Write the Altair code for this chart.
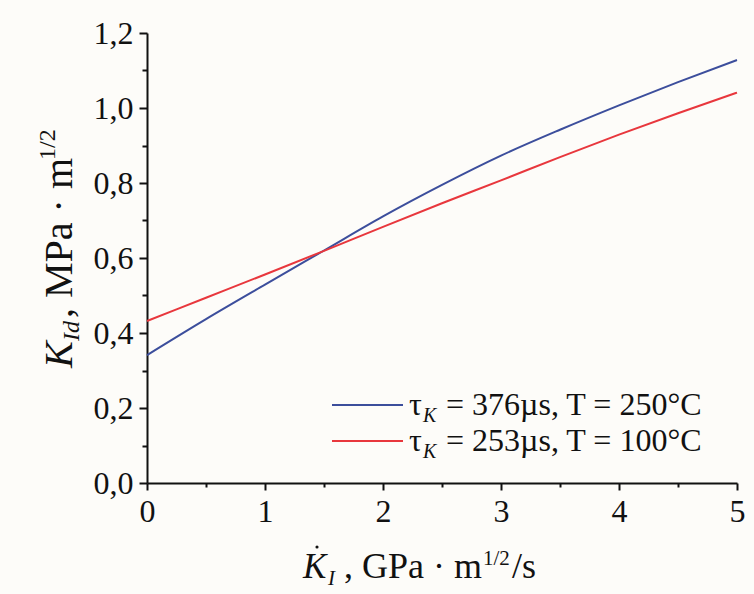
import altair as alt
import pandas as pd

# ---- data ----
k_rate = [0.0, 0.5, 1.0, 1.5, 2.0, 2.5, 3.0, 3.5, 4.0, 4.5, 5.0]
k_blue = [0.341, 0.437, 0.529, 0.620, 0.711, 0.795, 0.873, 0.942, 1.007, 1.069, 1.128]
k_red = [0.432, 0.494, 0.556, 0.619, 0.683, 0.746, 0.807, 0.869, 0.929, 0.986, 1.041]
series_names = ["τK = 376µs, T = 250°C", "τK = 253µs, T = 100°C"]
series_colors = ["#3c4e9c", "#e8373d"]
y_major = [0.0, 0.2, 0.4, 0.6, 0.8, 1.0, 1.2]
y_minor = [0.1, 0.3, 0.5, 0.7, 0.9, 1.1]
x_major = [0, 1, 2, 3, 4, 5]
x_minor = [0.5, 1.5, 2.5, 3.5, 4.5]

rows = []
for i, xv in enumerate(k_rate):
    rows.append({"x": xv, "y": k_blue[i], "s": series_names[0]})
    rows.append({"x": xv, "y": k_red[i], "s": series_names[1]})
df = pd.DataFrame(rows)

FONT = "Liberation Serif"
W, H = 590, 450

xscale = alt.Scale(domain=[0, 5], nice=False, zero=False)
yscale = alt.Scale(domain=[0, 1.2], nice=False)

lines = alt.Chart(df).mark_line(strokeWidth=2, interpolate="monotone").encode(
    x=alt.X("x:Q", scale=xscale, axis=alt.Axis(
        values=x_major, title=None, grid=False, domainColor="#111", domainWidth=2,
        tickColor="#111", tickWidth=2, tickSize=7, labelFont=FONT, labelFontSize=32,
        labelColor="#111", labelPadding=6, labelFlush=False, format="d")),
    y=alt.Y("y:Q", scale=yscale, axis=alt.Axis(
        values=y_major, title=None, grid=False, domainColor="#111", domainWidth=2,
        tickColor="#111", tickWidth=2, tickSize=8, labelFont=FONT, labelFontSize=32,
        labelColor="#111", labelPadding=6, format=".1f",
        labelExpr="replace(datum.label, '.', ',')")),
    color=alt.Color("s:N", scale=alt.Scale(domain=series_names, range=series_colors), legend=None),
    detail="s:N",
)

# minor ticks (separate axes on shared scales)
minor_df = pd.DataFrame({"x": [0.0], "y": [0.0]})
minor = alt.Chart(minor_df).mark_point(opacity=0).encode(
    x=alt.X("x:Q", scale=xscale, axis=alt.Axis(
        values=x_minor, orient="bottom", title=None, grid=False, domain=False, labels=False,
        tickColor="#111", tickWidth=2, tickSize=4)),
    y=alt.Y("y:Q", scale=yscale, axis=alt.Axis(
        values=y_minor, orient="left", title=None, grid=False, domain=False, labels=False,
        tickColor="#111", tickWidth=2, tickSize=5)),
)

OX, OY = 147, 33  # plot origin in page pixels


def txt(text, x, y, size, angle=0, italic=False, baseline="alphabetic", align="left"):
    d = pd.DataFrame({"t": [text]})
    kw = dict(font=FONT, fontSize=size, color="#111", align=align, baseline=baseline)
    if angle:
        kw["angle"] = angle
    if italic:
        kw["fontStyle"] = "italic"
    return alt.Chart(d).mark_text(**kw).encode(
        x=alt.value(x - OX), y=alt.value(y - OY), text="t:N")


# y-axis title (rotated): K_Id , MPa · m^1/2
ytitle = [
    txt("K", 72, 368, 40, angle=270, italic=True),
    txt("Id", 79, 341, 24, angle=270, italic=True),
    txt(", MPa · m", 72, 318, 40, angle=270),
    txt("1/2", 55, 160, 24, angle=270),
]

# x-axis title: K̇_I , GPa · m^1/2/s
dot = alt.Chart(pd.DataFrame({"t": ["dot"]})).mark_circle(size=10, color="#111", opacity=1).encode(
    x=alt.value(317 - OX), y=alt.value(547 - OY))
xtitle = [
    txt("K", 303, 578, 35, italic=True),
    dot,
    txt("I", 328, 585, 21, italic=True),
    txt(", GPa · m", 344, 578, 36),
    txt("1/2", 483, 565, 21),
    txt("/s", 512, 578, 36),
]

# legend
leg = []
leg_y = [405, 441]
for i in range(2):
    yy = leg_y[i]
    leg.append(alt.Chart(pd.DataFrame({"c": [series_colors[i]]})).mark_rule(
        strokeWidth=2, color=series_colors[i]).encode(
        x=alt.value(332 - OX), x2=alt.value(403 - OX), y=alt.value(yy - OY)))
    leg.append(txt("τ", 409, yy + 10, 32))
    leg.append(txt("K", 423, yy + 17, 20, italic=True))
    leg.append(txt(series_names[i].split("K ")[1], 446, yy + 10, 32))

chart = alt.layer(lines, minor, *ytitle, *xtitle, *leg).resolve_axis(
    x="independent", y="independent"
).properties(
    width=W, height=H,
    background="#fdfcf9",
    padding={"left": OX, "top": OY, "right": 754 - OX - W, "bottom": 594 - OY - H},
    autosize=alt.AutoSizeParams(type="none"),
).configure_view(stroke=None)

chart.save("out.html", embed_options={"renderer": "svg", "actions": False})
